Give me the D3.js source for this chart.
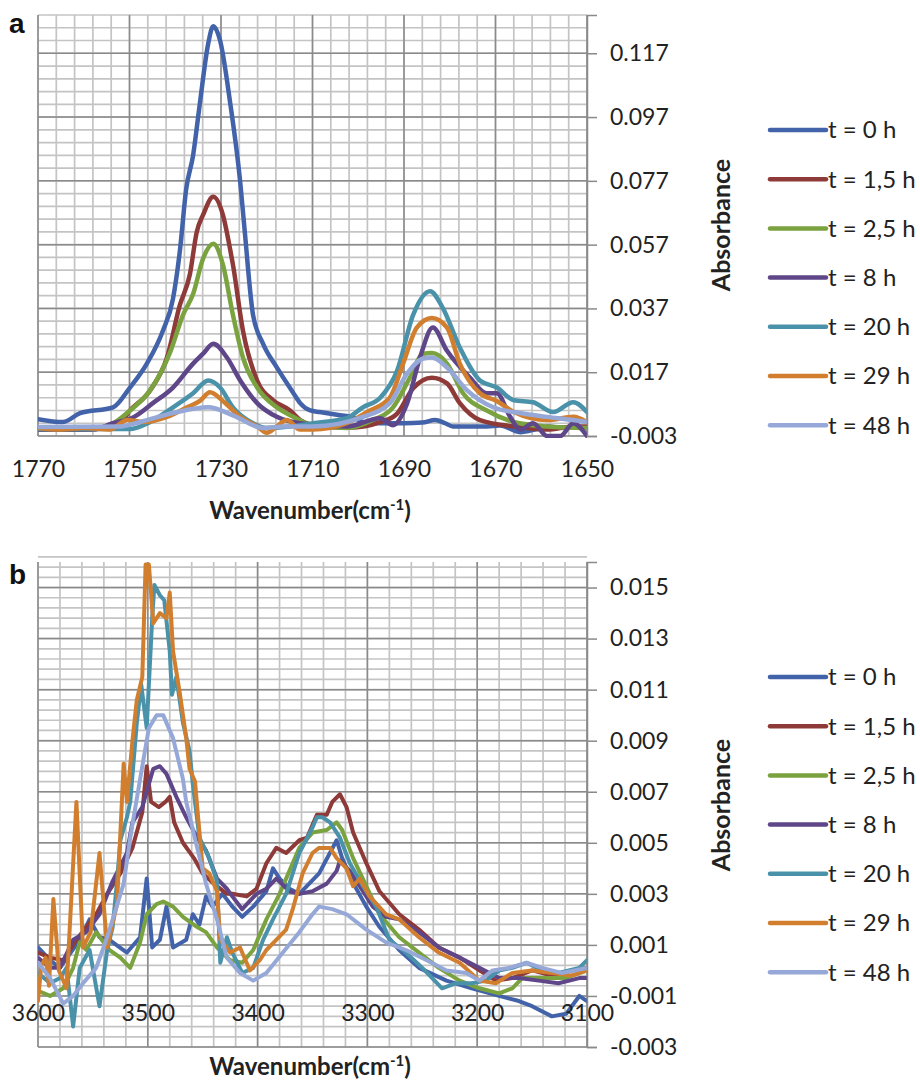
<!DOCTYPE html>
<html>
<head>
<meta charset="utf-8">
<script src="https://cdn.jsdelivr.net/npm/d3@7"></script>
<style>
  body { margin: 0; background: #fff; }
  svg { display: block; font-family: Lato, "Open Sans", sans-serif; }
</style>
</head>
<body>
<svg id="chart" width="920" height="1080"></svg>
<script>
// series names and colours (legend order)
const seriesNames = ["t = 0 h", "t = 1,5 h", "t = 2,5 h", "t = 8 h", "t = 20 h", "t = 29 h", "t = 48 h"];
const seriesColors = ["#4263a9", "#8e3a39", "#7aa33f", "#5e4689", "#4a92aa", "#d17f2f", "#95a8d8"];

// ---- panel a : 1770-1650 cm-1 ----  [wavenumber, absorbance]
const aT0 = [[1770,0.0023],[1764.5,0.0014],[1760.8,0.0042],[1753.6,0.006],[1749.9,0.0122],[1746.2,0.0197],[1742.7,0.030],[1740.5,0.040],[1739,0.0549],[1737.6,0.0745],[1736.1,0.085],[1734.6,0.1015],[1732.8,0.120],[1731.7,0.1255],[1730.2,0.121],[1728,0.1015],[1725.8,0.0766],[1724.8,0.061],[1723,0.035],[1720.8,0.0259],[1717.8,0.0185],[1714.2,0.0105],[1712.7,0.0073],[1710.5,0.005],[1708.4,0.0045],[1704,0.0035],[1701.1,0.0029],[1699,0.0014],[1695,0.001],[1690,0.001],[1686,0.0012],[1683.2,0.002],[1681,0.001],[1679.3,0.0],[1671.9,0.0],[1669,0.0003],[1664.6,-0.0018],[1661,-0.0008],[1658.7,0.0],[1655,-0.0005],[1653,0.0],[1650,-0.0005]];
const aT15 = [[1770,-0.0008],[1760,-0.0008],[1753,-0.0002],[1749.9,0.005],[1745.5,0.0113],[1741.8,0.0216],[1739,0.038],[1736.8,0.0477],[1735.3,0.061],[1733.9,0.0664],[1731.7,0.072],[1729.6,0.0664],[1728,0.0555],[1727.4,0.0508],[1725.2,0.030],[1722.1,0.0144],[1718.6,0.0082],[1714.9,0.005],[1712.7,0.002],[1709.9,0.0004],[1702,-0.0004],[1695,0.0014],[1691.5,0.004],[1688,0.012],[1683.9,0.0153],[1680.6,0.0135],[1677.8,0.0073],[1673.4,0.002],[1666,0.0],[1658.7,-0.001],[1653,0.0],[1650,0.0]];
const aT25 = [[1770,-0.001],[1760,-0.001],[1753.6,0.001],[1749.9,0.005],[1745.5,0.0113],[1741,0.0237],[1738.3,0.035],[1736.1,0.0415],[1733.9,0.0527],[1731.7,0.0573],[1729.6,0.0508],[1727.4,0.035],[1725.2,0.0216],[1722.1,0.0122],[1717.8,0.006],[1714.2,0.003],[1709.9,0.0004],[1702.5,-0.0005],[1696.8,0.002],[1692.4,0.006],[1688.7,0.0153],[1685.8,0.0228],[1683.9,0.023],[1680.6,0.0197],[1677.1,0.0104],[1671.9,0.005],[1666,0.0014],[1658.7,0.0],[1650,-0.0005]];
const aT8 = [[1770,-0.001],[1758,-0.001],[1753.6,0.001],[1749,0.003],[1744.9,0.0073],[1740.5,0.0122],[1736.1,0.0197],[1733.9,0.0228],[1731.7,0.0259],[1728.7,0.0216],[1725.8,0.0144],[1722.1,0.0073],[1717.8,0.003],[1712.7,0.001],[1702.5,0.0],[1695.2,0.0026],[1692.4,0.0004],[1689.3,0.0073],[1686.5,0.0216],[1683.7,0.031],[1680.6,0.0237],[1675.6,0.0153],[1671.9,0.0104],[1669.7,0.0104],[1666.8,0.003],[1664.6,-0.001],[1661.8,0.001],[1658.7,-0.003],[1655.8,-0.003],[1653,0.001],[1650,-0.003]];
const aT20 = [[1770,-0.0008],[1750,-0.0008],[1745.5,0.0014],[1740.5,0.006],[1736.1,0.0104],[1732.8,0.0144],[1730.2,0.0122],[1727.4,0.006],[1723,0.001],[1720,-0.0005],[1715,0.0],[1709.9,0.001],[1702.5,0.0026],[1699,0.006],[1695.2,0.009],[1691.5,0.0175],[1688,0.035],[1684.3,0.0424],[1681.5,0.0371],[1677.8,0.0247],[1673.4,0.0144],[1669.7,0.0122],[1666,0.0082],[1661.8,0.0076],[1657.4,0.0045],[1653,0.0076],[1650,0.0045]];
const aT29 = [[1770,-0.0005],[1765.2,-0.001],[1760,-0.0005],[1754.3,-0.001],[1750.5,0.002],[1747,0.0014],[1741.8,0.003],[1737.4,0.006],[1734.6,0.008],[1732.4,0.0107],[1729.6,0.008],[1725.8,0.003],[1722.1,0.0],[1720,-0.002],[1717.8,0.0],[1715.6,0.002],[1712.7,-0.001],[1709.9,-0.001],[1702.5,0.001],[1698.1,0.0045],[1693.1,0.009],[1690.2,0.0197],[1687.2,0.031],[1683.9,0.034],[1680.6,0.031],[1677.8,0.0197],[1673.4,0.0104],[1669.7,0.008],[1666,0.0045],[1658.7,0.002],[1653,0.003],[1650,0.0014]];
const aT48 = [[1770,-0.0002],[1752,0.0],[1747.7,0.0014],[1740.5,0.0042],[1732.8,0.006],[1727.4,0.0035],[1720.8,-0.0005],[1716.4,0.0],[1709.9,0.0],[1699,0.003],[1693.1,0.0073],[1689.3,0.0166],[1685.8,0.0213],[1683.9,0.0216],[1680.6,0.0185],[1676.2,0.0113],[1670.5,0.006],[1664.6,0.0042],[1658.7,0.003],[1653,0.002],[1650,0.0014]];

// ---- panel b : 3600-3100 cm-1 ----
const bT0 = [[3600,0.0009],[3589,0.0004],[3580,0.0001],[3562,0.0012],[3553,0.002],[3544,0.0013],[3535,0.0012],[3519,0.0007],[3507,0.0013],[3501,0.0036],[3496,0.0009],[3489,0.0012],[3483,0.0025],[3477,0.0009],[3465,0.0012],[3459,0.0022],[3453,0.0018],[3447,0.0029],[3441,0.0025],[3432,0.003],[3423,0.0025],[3414,0.0021],[3404,0.0025],[3392,0.0031],[3386,0.004],[3380,0.0036],[3371,0.0032],[3362,0.003],[3344,0.0038],[3328,0.0051],[3323,0.0044],[3314,0.0035],[3301,0.0025],[3289,0.0017],[3271,0.0008],[3253,0.0001],[3228,-0.0004],[3205,-0.0007],[3180,-0.001],[3162,-0.0012],[3150,-0.0014],[3132,-0.0018],[3119,-0.0017],[3107,-0.001],[3100,-0.0012]];
const bT15 = [[3600,0.0007],[3589,0.0005],[3577,0.0004],[3565,0.0012],[3556,0.0017],[3547,0.0022],[3537,0.003],[3525,0.0038],[3514,0.0048],[3505,0.0062],[3501,0.008],[3497,0.0066],[3490,0.0064],[3484,0.0066],[3480,0.0068],[3476,0.0058],[3468,0.005],[3458,0.0044],[3450,0.0038],[3440,0.0034],[3428,0.003],[3423,0.003],[3410,0.0029],[3401,0.0032],[3392,0.0042],[3383,0.0048],[3374,0.0046],[3362,0.0051],[3355,0.0052],[3346,0.0061],[3337,0.0061],[3332,0.0066],[3325,0.0069],[3319,0.0064],[3313,0.0054],[3301,0.0042],[3289,0.0031],[3271,0.0022],[3253,0.0016],[3235,0.0009],[3216,0.0005],[3198,0.0],[3183,-0.0004],[3168,-0.0003],[3150,0.0],[3132,-0.0002],[3114,0.0],[3100,0.0001]];
const bT25 = [[3600,-0.0008],[3589,-0.001],[3577,-0.0007],[3568,0.0001],[3562,0.0011],[3556,0.0008],[3547,0.0015],[3535,0.0008],[3525,0.0005],[3516,0.0001],[3507,0.0011],[3501,0.0022],[3492,0.0026],[3486,0.0027],[3477,0.0025],[3468,0.0021],[3455,0.0017],[3447,0.0015],[3437,0.0009],[3425,0.0004],[3414,0.0003],[3404,0.0008],[3392,0.002],[3380,0.003],[3362,0.0048],[3350,0.0054],[3337,0.0055],[3328,0.0058],[3323,0.0055],[3313,0.0044],[3301,0.0033],[3289,0.0022],[3271,0.0013],[3253,0.0007],[3235,0.0001],[3216,-0.0004],[3198,-0.0007],[3180,-0.0009],[3168,-0.0007],[3159,-0.0003],[3144,-0.0003],[3120,-0.0003],[3100,0.0]];
const bT8 = [[3600,0.0005],[3589,0.0001],[3580,0.0001],[3568,0.0012],[3556,0.0015],[3544,0.0022],[3532,0.0035],[3519,0.0046],[3514,0.0058],[3505,0.0064],[3495,0.0079],[3489,0.008],[3483,0.0077],[3474,0.0068],[3465,0.006],[3455,0.0052],[3447,0.0047],[3437,0.0036],[3428,0.0032],[3423,0.0029],[3414,0.0024],[3401,0.003],[3392,0.0032],[3383,0.0036],[3371,0.0031],[3362,0.003],[3350,0.0031],[3337,0.0034],[3328,0.0039],[3325,0.0043],[3316,0.0039],[3307,0.0033],[3295,0.0025],[3283,0.0021],[3271,0.002],[3253,0.0015],[3235,0.0009],[3216,0.0005],[3198,0.0001],[3180,-0.0003],[3162,-0.0003],[3144,-0.0004],[3126,-0.0005],[3107,-0.0003],[3100,-0.0003]];
const bT20 = [[3600,-0.0001],[3589,-0.0005],[3580,-0.0003],[3574,0.0001],[3568,-0.0022],[3562,0.0001],[3553,0.0008],[3544,-0.0014],[3537,0.0008],[3532,0.0017],[3528,0.0035],[3525,0.0051],[3519,0.006],[3516,0.0066],[3510,0.0097],[3506,0.0112],[3501,0.0095],[3496,0.0138],[3494,0.0151],[3489,0.0147],[3485,0.0145],[3480,0.0125],[3478,0.0108],[3474,0.0115],[3468,0.0097],[3462,0.0086],[3459,0.0073],[3453,0.0052],[3444,0.0044],[3437,0.0035],[3434,0.0003],[3428,0.0013],[3423,0.0007],[3414,-0.0001],[3404,0.0001],[3395,0.0012],[3386,0.002],[3374,0.003],[3362,0.0046],[3350,0.0056],[3346,0.006],[3341,0.006],[3334,0.0058],[3325,0.0052],[3316,0.0042],[3304,0.0033],[3292,0.0025],[3280,0.0012],[3265,0.0007],[3250,0.0001],[3232,-0.0007],[3219,-0.0005],[3205,-0.0005],[3192,-0.0004],[3180,0.0],[3168,0.0001],[3155,0.0003],[3141,0.0],[3126,-0.0001],[3107,0.0001],[3100,0.0004]];
const bT29 = [[3600,-0.0012],[3597,0.0002],[3593,0.0005],[3590,-0.0006],[3586,0.0028],[3581,0.0],[3574,-0.0007],[3565,0.0066],[3559,0.0009],[3552,0.0015],[3544,0.0046],[3537,0.0009],[3528,0.0026],[3522,0.0081],[3519,0.0066],[3514,0.009],[3510,0.0106],[3505,0.0115],[3502,0.0159],[3499,0.0159],[3495,0.0136],[3489,0.014],[3483,0.0138],[3480,0.0148],[3477,0.0125],[3471,0.0109],[3465,0.0091],[3462,0.0079],[3457,0.0074],[3455,0.0064],[3450,0.004],[3444,0.0038],[3437,0.0031],[3434,0.0012],[3425,0.0007],[3416,0.0009],[3407,0.0],[3398,0.0004],[3392,0.0008],[3383,0.0012],[3374,0.0016],[3368,0.0024],[3359,0.0038],[3350,0.0046],[3344,0.0048],[3334,0.0048],[3328,0.0044],[3319,0.004],[3313,0.0033],[3307,0.0036],[3298,0.0029],[3283,0.0022],[3271,0.002],[3253,0.0013],[3235,0.0007],[3216,0.0003],[3198,-0.0004],[3183,-0.0005],[3168,-0.0001],[3150,0.0],[3132,-0.0001],[3114,-0.0002],[3100,0.0]];
const bT48 = [[3600,0.0003],[3589,-0.0003],[3577,-0.0013],[3568,-0.001],[3559,-0.0005],[3547,0.0001],[3537,0.0013],[3522,0.0034],[3516,0.0052],[3507,0.0075],[3499,0.0095],[3492,0.01],[3486,0.01],[3477,0.0091],[3468,0.0075],[3465,0.0066],[3455,0.0048],[3447,0.0034],[3437,0.002],[3428,0.0005],[3416,-0.0001],[3404,-0.0004],[3392,-0.0001],[3377,0.0007],[3362,0.0015],[3350,0.0022],[3344,0.0025],[3332,0.0024],[3319,0.0022],[3301,0.0016],[3283,0.0011],[3265,0.0008],[3246,0.0004],[3228,0.0],[3210,-0.0001],[3198,-0.0004],[3186,0.0],[3171,0.0001],[3155,0.0003],[3141,0.0001],[3123,-0.0001],[3100,0.0001]];

// tick values
const aXTicks = [1770, 1750, 1730, 1710, 1690, 1670, 1650];
const aYTicks = [-0.003, 0.017, 0.037, 0.057, 0.077, 0.097, 0.117];
const bXTicks = [3600, 3500, 3400, 3300, 3200, 3100];
const bYTicks = [-0.003, -0.001, 0.001, 0.003, 0.005, 0.007, 0.009, 0.011, 0.013, 0.015];

const svg = d3.select("#chart");

// one panel of the figure
function drawPanel(opt) {
    const x = d3.scaleLinear().domain(opt.xDomain).range([38, 587]);
    const y = d3.scaleLinear().domain(opt.yDomain).range([opt.bottom, opt.top]);
    const g = svg.append("g");

    // minor grid (lighter), then major grid (darker)
    const n = (a, b, step) => d3.range(0, Math.round((b - a) / step) + 1).map(i => a + i * step);
    const xMinor = n(opt.xDomain[1], opt.xDomain[0], opt.xMinor);
    const yMinor = n(opt.yDomain[0], opt.yDomain[1], opt.yMinor);
    g.append("g").selectAll("line").data(xMinor).enter().append("line")
        .attr("x1", d => x(d)).attr("x2", d => x(d))
        .attr("y1", opt.top).attr("y2", opt.bottom)
        .attr("stroke", "#c4c4c4").attr("stroke-width", 1.7);
    g.append("g").selectAll("line").data(yMinor).enter().append("line")
        .attr("x1", 38).attr("x2", 587)
        .attr("y1", d => y(d)).attr("y2", d => y(d))
        .attr("stroke", "#c4c4c4").attr("stroke-width", 1.7);
    g.append("g").selectAll("line").data(opt.xTicks).enter().append("line")
        .attr("x1", d => x(d)).attr("x2", d => x(d))
        .attr("y1", opt.top).attr("y2", opt.bottom)
        .attr("stroke", "#8a8a8a").attr("stroke-width", 1.5);
    g.append("g").selectAll("line").data(opt.yTicks).enter().append("line")
        .attr("x1", 38).attr("x2", 587)
        .attr("y1", d => y(d)).attr("y2", d => y(d))
        .attr("stroke", "#8a8a8a").attr("stroke-width", 1.5);

    // clip for the spectra
    svg.append("clipPath").attr("id", opt.id + "clip").append("rect")
        .attr("x", 38).attr("y", opt.top - 2).attr("width", 549).attr("height", opt.bottom - opt.top + 4);

    const line = d3.line()
        .x(d => x(d[0])).y(d => y(d[1]))
        .curve(opt.curve);

    g.append("g").attr("clip-path", "url(#" + opt.id + "clip)")
        .selectAll("path").data(opt.series).enter().append("path")
        .attr("d", line)
        .attr("fill", "none")
        .attr("stroke", (d, i) => seriesColors[i])
        .attr("stroke-width", opt.lineWidth)
        .attr("stroke-linejoin", "round")
        .attr("stroke-linecap", "round");

    // right y axis
    const yAxis = g.append("g").attr("transform", "translate(587,0)")
        .call(d3.axisRight(y).tickValues(opt.yTicks).tickSize(10).tickPadding(13)
            .tickFormat(d => d.toFixed(3)));
    yAxis.select(".domain").attr("stroke", "#8a8a8a").attr("stroke-width", 1.5);
    yAxis.selectAll(".tick line").attr("stroke", "#8a8a8a").attr("stroke-width", 1.5);
    yAxis.selectAll("text").attr("font-size", 23).attr("fill", "#222")
        .style("font-family", "Lato, 'Open Sans', sans-serif");

    // x tick labels
    const xAxis = g.append("g").attr("transform", "translate(0," + opt.xLabelY + ")")
        .call(d3.axisBottom(x).tickValues(opt.xTicks).tickSize(0).tickFormat(d3.format("d")));
    xAxis.select(".domain").remove();
    xAxis.selectAll("text").attr("y", 0).attr("dy", "0.35em")
        .attr("font-size", 23).attr("fill", "#222")
        .style("font-family", "Lato, 'Open Sans', sans-serif");

    // x title
    const xt = g.append("text").attr("x", 310).attr("y", opt.xTitleY)
        .attr("text-anchor", "middle").attr("font-size", 24).attr("font-weight", "bold").attr("fill", "#222");
    xt.append("tspan").text("Wavenumber(cm");
    xt.append("tspan").attr("dy", -9).attr("font-size", 15).text("-1");
    xt.append("tspan").attr("dy", 9).text(")");

    // y title
    g.append("text")
        .attr("transform", "translate(730," + opt.yTitleY + ") rotate(-90)")
        .attr("text-anchor", "middle").attr("font-size", 25).attr("font-weight", "bold").attr("fill", "#222")
        .text("Absorbance");

    // panel letter
    g.append("text").attr("x", 9).attr("y", opt.letterY)
        .attr("font-size", 28).attr("font-weight", "bold").attr("fill", "#111")
        .style("font-family", "Arial, 'Liberation Sans', sans-serif")
        .text(opt.letter);

    // legend
    const leg = g.append("g").selectAll("g").data(seriesNames).enter().append("g")
        .attr("transform", (d, i) => "translate(770," + (opt.legendTop + i * opt.legendStep) + ")");
    leg.append("line").attr("x1", 0).attr("x2", 56).attr("y1", 0).attr("y2", 0)
        .attr("stroke", (d, i) => seriesColors[i]).attr("stroke-width", 4.5).attr("stroke-linecap", "round");
    leg.append("text").attr("x", 58).attr("dy", "0.35em")
        .attr("font-size", 24).attr("fill", "#222").text(d => d);
}

drawPanel({
    id: "a", letter: "a", letterY: 33,
    xDomain: [1770, 1650], yDomain: [-0.003, 0.129],
    top: 15, bottom: 436, xMinor: 4, yMinor: 0.004,
    xTicks: aXTicks, yTicks: aYTicks,
    series: [aT0, aT15, aT25, aT8, aT20, aT29, aT48],
    curve: d3.curveMonotoneX, lineWidth: 4.5,
    xLabelY: 469, xTitleY: 519, yTitleY: 225,
    legendTop: 130, legendStep: 49.2
});

drawPanel({
    id: "b", letter: "b", letterY: 584,
    xDomain: [3600, 3100], yDomain: [-0.003, 0.016],
    top: 562, bottom: 1047, xMinor: 20, yMinor: 0.0004,
    xTicks: bXTicks, yTicks: bYTicks,
    series: [bT0, bT15, bT25, bT8, bT20, bT29, bT48],
    curve: d3.curveLinear, lineWidth: 4,
    xLabelY: 1013, xTitleY: 1075, yTitleY: 805,
    legendTop: 677, legendStep: 49.2
});
</script>
</body>
</html>
